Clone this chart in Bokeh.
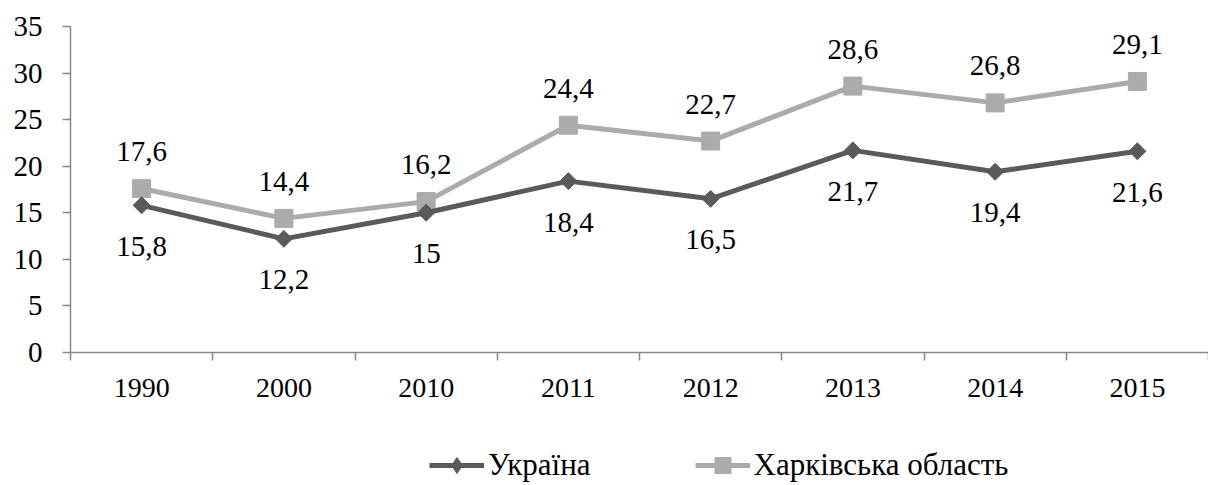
import numpy as np
from bokeh.plotting import figure
from bokeh.layouts import column
from bokeh.models import (Range1d, FixedTicker, Legend, LegendItem, ColumnDataSource)
from bokeh.core.properties import value
from bokeh.embed import file_html
from bokeh.resources import INLINE

years = ["1990", "2000", "2010", "2011", "2012", "2013", "2014", "2015"]
ukraine = [15.8, 12.2, 15.0, 18.4, 16.5, 21.7, 19.4, 21.6]
kharkiv = [17.6, 14.4, 16.2, 24.4, 22.7, 28.6, 26.8, 29.1]
ukraine_labels = ["15,8", "12,2", "15", "18,4", "16,5", "21,7", "19,4", "21,6"]
kharkiv_labels = ["17,6", "14,4", "16,2", "24,4", "22,7", "28,6", "26,8", "29,1"]
y_ticks = [0, 5, 10, 15, 20, 25, 30, 35]
series_names = ["Україна", "Харківська область"]

FONT = "Liberation Serif"
DARK = "#5a5a5a"
LIGHT = "#ababab"
AXIS = "#888888"

xs = list(range(len(years)))

p = figure(width=1208, height=420, output_backend="svg", toolbar_location=None,
           x_range=Range1d(-0.5, 7.5), y_range=Range1d(0, 35),
           min_border_left=70, min_border_right=0, min_border_top=26,
           min_border_bottom=68)
p.outline_line_color = None
p.grid.visible = False
p.background_fill_color = "white"

# axes
xa = p.xaxis[0]
xa.ticker = FixedTicker(ticks=xs, minor_ticks=[i - 0.5 for i in range(len(years) + 1)])
xa.major_label_overrides = {i: y for i, y in enumerate(years)}
xa.major_tick_in = 0
xa.major_tick_out = 0
xa.minor_tick_in = 0
xa.minor_tick_out = 8
xa.minor_tick_line_color = AXIS
xa.minor_tick_line_width = 1.5
xa.axis_line_color = AXIS
xa.axis_line_width = 1.5
xa.major_label_text_font = FONT
xa.major_label_text_font_size = "28px"
xa.major_label_text_color = "black"
xa.major_label_standoff = 18

ya = p.yaxis[0]
ya.ticker = FixedTicker(ticks=y_ticks, minor_ticks=[])
ya.major_tick_in = 0
ya.major_tick_out = 8
ya.major_tick_line_color = AXIS
ya.major_tick_line_width = 1.5
ya.axis_line_color = AXIS
ya.axis_line_width = 1.5
ya.major_label_text_font = FONT
ya.major_label_text_font_size = "29px"
ya.major_label_text_color = "black"
ya.major_label_standoff = 20

src_u = ColumnDataSource(dict(x=xs, y=ukraine, lab=ukraine_labels))
src_k = ColumnDataSource(dict(x=xs, y=kharkiv, lab=kharkiv_labels))

p.line("x", "y", source=src_k, line_color=LIGHT, line_width=5)
p.scatter("x", "y", source=src_k, marker="square", size=18,
          fill_color=LIGHT, line_color=LIGHT)
p.line("x", "y", source=src_u, line_color=DARK, line_width=5)
p.scatter("x", "y", source=src_u, marker="square", size=12, angle=np.pi / 4,
          fill_color=DARK, line_color=DARK)

p.text("x", "y", text="lab", source=src_k, text_font=value(FONT),
       text_font_size="29px", text_color="black", text_align="center",
       text_baseline="middle", y_offset=-37)
p.text("x", "y", text="lab", source=src_u, text_font=value(FONT),
       text_font_size="29px", text_color="black", text_align="center",
       text_baseline="middle", y_offset=41)

# legend strip (renderers hidden; they only supply the legend glyph styles)
q = figure(width=1208, height=65, output_backend="svg", toolbar_location=None,
           x_range=Range1d(0, 1), y_range=Range1d(0, 1),
           x_axis_location=None, y_axis_location=None,
           min_border_left=0, min_border_right=0, min_border_top=0,
           min_border_bottom=0)
q.grid.visible = False
q.outline_line_color = None
ql_u = q.line("x", "y", source=src_u, line_color=DARK, line_width=5, visible=False)
qm_u = q.scatter("x", "y", source=src_u, marker="diamond", size=22,
                 fill_color=DARK, line_color=DARK, visible=False)
ql_k = q.line("x", "y", source=src_k, line_color=LIGHT, line_width=5, visible=False)
qm_k = q.scatter("x", "y", source=src_k, marker="square", size=16,
                 fill_color=LIGHT, line_color=LIGHT, visible=False)

legend = Legend(items=[LegendItem(label=series_names[0], renderers=[ql_u, qm_u]),
                       LegendItem(label=series_names[1], renderers=[ql_k, qm_k])],
                orientation="horizontal", location=(359, 0),
                label_text_font=FONT, label_text_font_size="31px",
                label_text_color="black", glyph_width=55, glyph_height=40,
                label_height=40, label_standoff=4, spacing=104, padding=0,
                margin=0, border_line_color=None, background_fill_alpha=0,
                click_policy="none")
q.add_layout(legend, "center")

layout = column(p, q, spacing=0)
open("out.html", "w").write(file_html(layout, INLINE))
